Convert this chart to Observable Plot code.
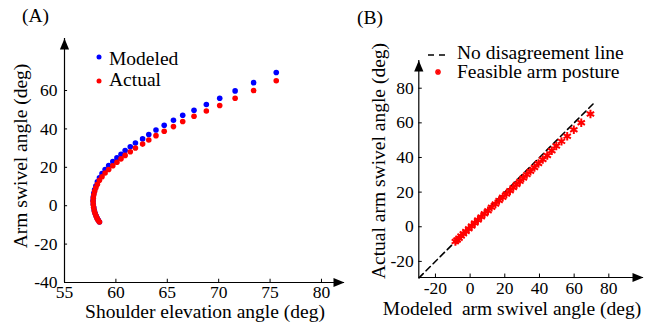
<!DOCTYPE html>
<html>
<head>
<meta charset="utf-8">
<script src="https://cdn.jsdelivr.net/npm/d3@7"></script>
<script src="https://cdn.jsdelivr.net/npm/@observablehq/plot@0.6"></script>
<style>
  html, body { margin: 0; padding: 0; background: #fff; }
  #wrap { position: relative; width: 651px; height: 324px; overflow: hidden; background: #fff; }
  #wrap > .panel { position: absolute; top: 0; }
  #overlay { position: absolute; left: 0; top: 0; pointer-events: none; font-family: "Liberation Serif", "Times New Roman", serif; }
  .panel svg, .panel svg text { font-family: "Liberation Serif", "Times New Roman", serif !important; }
</style>
</head>
<body>
<div id="wrap">
  <div class="panel" id="pa" style="left:0"></div>
  <div class="panel" id="pb" style="left:350px"></div>
  <svg id="overlay" width="651" height="324">
    <g font-size="19.5px" fill="black">
      <text x="22" y="22">(A)</text>
      <text x="357" y="24">(B)</text>
      <text x="205" y="318" text-anchor="middle">Shoulder elevation angle (deg)</text>
      <text transform="translate(27,156) rotate(-90)" text-anchor="middle">Arm swivel angle (deg)</text>
      <text transform="translate(385,161) rotate(-90)" text-anchor="middle">Actual arm swivel angle (deg)</text>
      <text x="512" y="315" text-anchor="middle" style="white-space:pre">Modeled  arm swivel angle (deg)</text>
      <text x="109" y="65">Modeled</text>
      <text x="109" y="86">Actual</text>
      <text x="457" y="59">No disagreement line</text>
      <text x="457" y="78">Feasible arm posture</text>
    </g>
    <circle cx="99" cy="57" r="2.5" fill="#0000ff"></circle>
    <circle cx="99" cy="81" r="2.5" fill="#ff0000"></circle>
    <line x1="428" y1="55" x2="446" y2="55" stroke="black" stroke-width="1.6" stroke-dasharray="6,5"></line>
    <g stroke="#ff0000" stroke-width="1.5" transform="translate(438,72)">
      <line x1="-3" y1="0" x2="3" y2="0"></line>
      <line x1="0" y1="-3" x2="0" y2="3"></line>
      <line x1="-2.1" y1="-2.1" x2="2.1" y2="2.1"></line>
      <line x1="-2.1" y1="2.1" x2="2.1" y2="-2.1"></line>
    </g>
  </svg>
</div>
<script>
// ---- data ----
const shoulderElev = [75.6, 73.4, 71.6, 70.1, 68.8, 67.6, 66.5, 65.6, 64.7, 63.9, 63.2, 62.6, 61.9, 61.4, 60.9, 60.5, 60.1, 59.7, 59.3, 58.95, 58.65, 58.4, 58.2, 58.05, 57.93, 57.85, 57.8, 57.78, 57.8, 57.84, 57.9, 57.98, 58.07, 58.17, 58.28, 58.4];
const modeledSwivel = [69.4, 64.1, 59.8, 56.0, 52.7, 49.7, 47.1, 44.5, 41.9, 39.4, 37.1, 34.8, 32.7, 30.7, 28.7, 26.8, 24.9, 23.0, 20.9, 18.8, 16.7, 14.6, 12.4, 10.3, 8.3, 6.4, 4.5, 2.7, 0.9, -0.8, -2.4, -3.9, -5.2, -6.4, -7.5, -8.5];
const actualSwivel = [65.1, 60.0, 56.0, 52.2, 49.3, 46.6, 43.9, 41.2, 38.8, 36.5, 34.2, 32.1, 30.1, 28.1, 26.2, 24.4, 22.6, 20.8, 18.9, 17.0, 15.1, 13.2, 11.2, 9.3, 7.5, 5.7, 3.9, 2.2, 0.5, -1.1, -2.7, -4.1, -5.4, -6.6, -7.6, -8.5];

const xTicksA = [55, 60, 65, 70, 75, 80];
const yTicksA = [-40, -20, 0, 20, 40, 60];
const ticksB = [-20, 0, 20, 40, 60, 80];
const identityLine = [-29.5, 72];

const xDomA = [55, 82.24];
const yDomA = [-40, 87.1];
const xDomB = [-29.6, 100];
const yDomB = [-29.3, 96];

const rows = shoulderElev.map((x, i) => ({x, m: modeledSwivel[i], a: actualSwivel[i]}));
const lineRows = identityLine.map(v => ({v}));

// filled arrowhead, tip at origin pointing up
const arrowHead = {
  draw(ctx) {
    ctx.moveTo(0, 0);
    ctx.lineTo(4.6, 11);
    ctx.lineTo(-4.6, 11);
    ctx.closePath();
  }
};

const FF = '"Liberation Serif", "Times New Roman", serif';
const font = `font-family: ${FF}; font-size: 17.5px; background: white; overflow: visible;`;
const tk = {fill: "black", fontFamily: FF, fontSize: 17.5, lineAnchor: "middle"};

// ---- Panel A ----
const plotA = Plot.plot({
  width: 350, height: 324,
  marginLeft: 64, marginRight: 6, marginTop: 38, marginBottom: 42,
  x: {domain: xDomA, axis: null},
  y: {domain: yDomA, axis: null},
  style: font,
  marks: [
    Plot.ruleY([xDomA], {y: () => yDomA[0], x1: d => d[0], x2: d => d[1], stroke: "black", strokeWidth: 1.2}),
    Plot.ruleX([yDomA], {x: () => xDomA[0], y1: d => d[0], y2: d => d[1], stroke: "black", strokeWidth: 1.2}),
    Plot.ruleX(xTicksA, {x: d => d, y1: () => yDomA[0], y2: () => yDomA[0] + 1.7, stroke: "black", strokeWidth: 1}),
    Plot.ruleY(yTicksA, {y: d => d, x1: () => xDomA[0], x2: () => xDomA[0] + 0.3, stroke: "black", strokeWidth: 1}),
    Plot.dot([[xDomA[1], yDomA[0]]], {x: d => d[0], y: d => d[1], symbol: arrowHead, fill: "black", stroke: null, rotate: 90}),
    Plot.dot([[xDomA[0], yDomA[1]]], {x: d => d[0], y: d => d[1], symbol: arrowHead, fill: "black", stroke: null}),
    Plot.text(xTicksA, {...tk, x: d => d, frameAnchor: "bottom", dy: 10}),
    Plot.text(yTicksA, {...tk, y: d => d, frameAnchor: "left", dx: -7, textAnchor: "end"}),
    Plot.dot(rows, {x: "x", y: "m", r: 2.8, fill: "#0000ff", stroke: null}),
    Plot.dot(rows, {x: "x", y: "a", r: 2.8, fill: "#ff0000", stroke: null})
  ]
});
document.getElementById("pa").appendChild(plotA);

// ---- Panel B ----
const plotB = Plot.plot({
  width: 301, height: 324,
  marginLeft: 68.3, marginRight: 8, marginTop: 60, marginBottom: 47,
  x: {domain: xDomB, axis: null},
  y: {domain: yDomB, axis: null},
  style: font,
  marks: [
    Plot.ruleY([xDomB], {y: () => yDomB[0], x1: d => d[0], x2: d => d[1], stroke: "black", strokeWidth: 1.2}),
    Plot.ruleX([yDomB], {x: () => xDomB[0], y1: d => d[0], y2: d => d[1], stroke: "black", strokeWidth: 1.2}),
    Plot.ruleX(ticksB, {x: d => d, y1: () => yDomB[0], y2: () => yDomB[0] + 2, stroke: "black", strokeWidth: 1}),
    Plot.ruleY(ticksB, {y: d => d, x1: () => xDomB[0], x2: () => xDomB[0] + 2, stroke: "black", strokeWidth: 1}),
    Plot.dot([[xDomB[1], yDomB[0]]], {x: d => d[0], y: d => d[1], symbol: arrowHead, fill: "black", stroke: null, rotate: 90}),
    Plot.dot([[xDomB[0], yDomB[1]]], {x: d => d[0], y: d => d[1], symbol: arrowHead, fill: "black", stroke: null}),
    Plot.text(ticksB, {...tk, x: d => d, frameAnchor: "bottom", dy: 11}),
    Plot.text(ticksB, {...tk, y: d => d, frameAnchor: "left", dx: -5, textAnchor: "end"}),
    Plot.line(lineRows, {x: "v", y: "v", stroke: "black", strokeWidth: 1.6, strokeDasharray: "6,4"}),
    Plot.dot(rows, {x: "m", y: "a", symbol: "asterisk", r: 4, stroke: "#ff0000", strokeWidth: 2})
  ]
});
document.getElementById("pb").appendChild(plotB);
</script>
</body>
</html>
